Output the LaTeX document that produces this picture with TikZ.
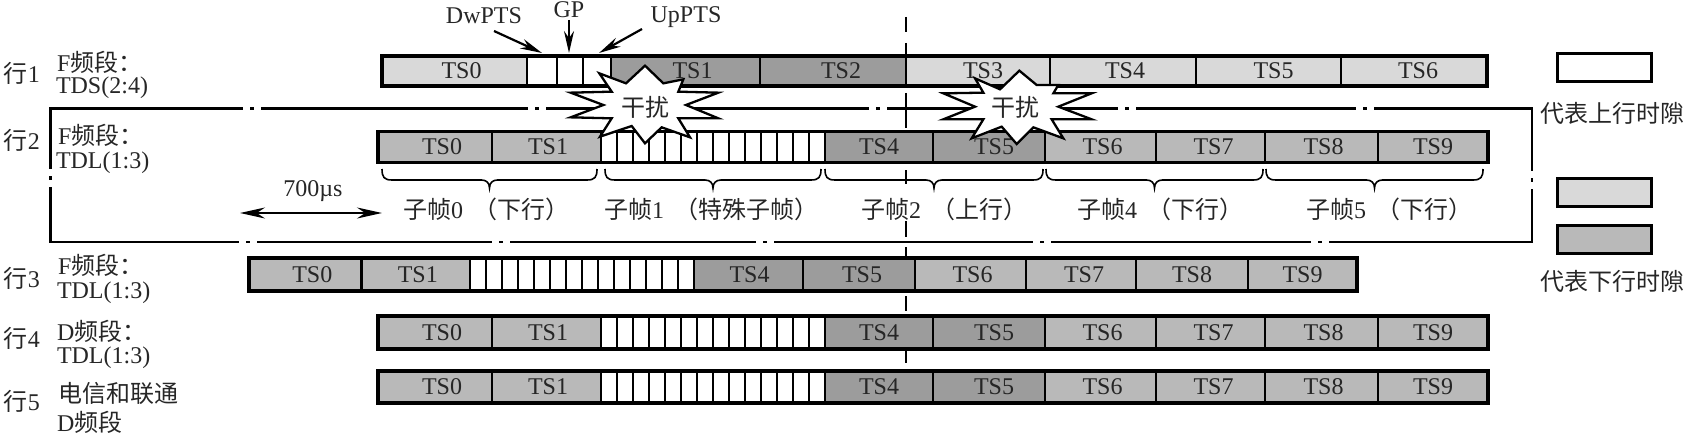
\documentclass[tikz,border=0pt]{standalone}
\usepackage{fontspec}
\setmainfont{Liberation Serif}
\newfontfamily\cjk{Noto Sans CJK SC}
\usetikzlibrary{arrows.meta}
\definecolor{lightslot}{HTML}{D9D9D9}
\definecolor{midslot}{HTML}{B9B9B9}
\definecolor{darkslot}{HTML}{9C9C9C}
\tikzset{
  x=1pt,y=-1pt,
  txt/.style={inner sep=0pt,outer sep=0pt,font=\fontsize{24}{28}\selectfont,text=black!85},
  cellbox/.style={draw=black,line width=2.6pt,inner sep=0pt,outer sep=0pt,font=\fontsize{24}{28}\selectfont,text=black!85},
  rowframe/.style={draw=black,line width=3.2pt},
  framebox/.style={draw=black,line width=2.4pt},
  axisdash/.style={draw=black,line width=1.6pt},
  pointer/.style={draw=black,line width=2.2pt,-{Stealth[length=22pt,width=10pt]}},
  span/.style={draw=black,line width=2pt,{Stealth[length=25pt,width=11pt]}-{Stealth[length=25pt,width=11pt]}},
  bracket/.style={draw=black,line width=1.6pt},
  burstshape/.style={draw=black,fill=white,line width=2.3pt,line join=miter},
  legendbox/.style={draw=black,line width=3pt,minimum width=94pt,minimum height=28pt,inner sep=0pt,outer sep=0pt}
}
\newcommand\zh[1]{{\cjk #1}}
% name, x1, x2, top, bottom, fill, text
\newcommand\slot[7]{\node[cellbox,fill=#6,minimum width={(#3-(#2))*1pt},minimum height={(#5-(#4))*1pt}] (#1) at ({(#2+#3)/2},{(#4+#5)/2}) {#7};}
% text with an offset of its centre from the cell centre
\newcommand\slottext[2]{\hspace*{#1pt}#2}
% name, x0, top, bottom
\newcommand\stripes[4]{\foreach \k in {0,...,13}{\pgfmathsetmacro\xa{#2+16*\k}\pgfmathsetmacro\xb{#2+16*\k+16}\slot{#1s\k}{\xa}{\xb}{#3}{#4}{white}{}}}
% name, top, bottom: the TDL row shared by rows 2, 4, 5
\newcommand\tdlrow[3]{%
  \foreach \a/\b/\c/\t/\o in {378/492/midslot/TS0/14,492/601/midslot/TS1/3,825/933/darkslot/TS4/0,933/1045/darkslot/TS5/10,1045/1156/midslot/TS6/4,1156/1265/midslot/TS7/6,1265/1378/midslot/TS8/4,1378/1488/midslot/TS9/0}{\slot{#1\t}{\a}{\b}{#2}{#3}{\c}{\slottext{\o}{\t}}}
  \stripes{#1}{601}{#2}{#3}
  \draw[rowframe] (#1TS0.north west) rectangle (#1TS9.south east);}
\newcommand\gapH[2]{\fill[white] (#1-9,#2-3) rectangle (#1+9,#2+3);\fill[black] (#1-2,#2-1.2) rectangle (#1+2,#2+1.2);}
\newcommand\gapV[2]{\fill[white] (#1-3,#2-9) rectangle (#1+3,#2+9);\fill[black] (#1-1.2,#2-2) rectangle (#1+1.2,#2+2);}
\newcommand\curly[2]{\pgfmathsetmacro\m{(#1+#2)/2}\draw[bracket] (#1,169) .. controls (#1,177) and (#1+2,180) .. (#1+10,180) -- (\m-8,180) .. controls (\m-3,180) and (\m,183) .. (\m,188) .. controls (\m,183) and (\m+3,180) .. (\m+8,180) -- (#2-10,180) .. controls (#2-2,180) and (#2,177) .. (#2,169);}
\begin{document}
\begin{tikzpicture}
\useasboundingbox (0,0) rectangle (1685,433);
% centre dashed line
\foreach \a/\b in {17/32,43/54,93/108,110/128,170/184,221/237,247/257,296/311,350/363}{\draw[axisdash] (906,\a) -- (906,\b);}
% frame around row 2
\draw[framebox] (50.5,108.7) rectangle (1532,241.7);
\foreach \x in {252,537,878,1127,1365}{\gapH{\x}{108.7}}
\foreach \x in {248,501,765,1042,1320}{\gapH{\x}{241.7}}
\gapV{50.5}{178}
\gapV{1532}{180}
% row 1
\foreach \a/\b/\c/\t/\o in {382/527/lightslot/TS0/14,611/760/darkslot/TS1/14,760/906/darkslot/TS2/16,906/1050/lightslot/TS3/10,1050/1196/lightslot/TS4/4,1196/1341/lightslot/TS5/10,1341/1487/lightslot/TS6/8}{\slot{a\t}{\a}{\b}{56}{86}{\c}{\slottext{\o}{\t}}}
\slot{adw}{527}{557}{56}{86}{white}{}
\slot{agp}{557}{583}{56}{86}{white}{}
\slot{aup}{583}{611}{56}{86}{white}{}
\draw[rowframe] (aTS0.north west) rectangle (aTS6.south east);
% row 2, 4, 5
\tdlrow{b}{131.5}{162.5}
\tdlrow{d}{316}{349}
\tdlrow{e}{371}{403}
% row 3
\foreach \a/\b/\c/\t/\o in {249/361.5/midslot/TS0/14,361.5/470/midslot/TS1/4,694/803/darkslot/TS4/2,803/915/darkslot/TS5/6,915/1026/midslot/TS6/4,1026/1136/midslot/TS7/6,1136/1248/midslot/TS8/0,1248/1357/midslot/TS9/0}{\slot{c\t}{\a}{\b}{258}{291}{\c}{\slottext{\o}{\t}}}
\stripes{c}{470}{258}{291}
\draw[rowframe] (cTS0.north west) rectangle (cTS9.south east);
% top labels and pointers
\node[txt] (dwlabel) at (484,16) {DwPTS};
\node[txt] (gplabel) at (569,10) {GP};
\node[txt] (uplabel) at (686,17) {UpPTS};
\coordinate (dwfrom) at (494,31);
\coordinate (dwto) at (542,53);
\coordinate (gpfrom) at (569,20);
\coordinate (gpto) at (569,53);
\coordinate (upfrom) at (642,29);
\coordinate (upto) at (599,53);
\draw[pointer] (dwfrom) -- (dwto);
\draw[pointer] (gpfrom) -- (gpto);
\draw[pointer] (upfrom) -- (upto);
% row labels
\node[txt,anchor=west] (h1) at (4,73) {\zh{行}1};
\node[txt,anchor=west] (h2) at (4,140) {\zh{行}2};
\node[txt,anchor=west] (h3) at (4,278) {\zh{行}3};
\node[txt,anchor=west] (h4) at (4,338) {\zh{行}4};
\node[txt,anchor=west] (h5) at (4,401) {\zh{行}5};
\node[txt,anchor=west] (l1a) at (57,62) {F\zh{频段：}};
\node[txt,anchor=west] (l1b) at (56,88) {TDS(2:4)};
\node[txt,anchor=west] (l2a) at (58,135) {F\zh{频段：}};
\node[txt,anchor=west] (l2b) at (56,163) {TDL(1:3)};
\node[txt,anchor=west] (l3a) at (58,265) {F\zh{频段：}};
\node[txt,anchor=west] (l3b) at (57,293) {TDL(1:3)};
\node[txt,anchor=west] (l4a) at (57,331) {D\zh{频段：}};
\node[txt,anchor=west] (l4b) at (57,358) {TDL(1:3)};
\node[txt,anchor=west] (l5a) at (58,393) {\zh{电信和联通}};
\node[txt,anchor=west] (l5b) at (57,422) {D\zh{频段}};
% braces and subframe labels
\curly{382}{597}
\curly{605}{821}
\curly{825}{1043}
\curly{1046}{1263}
\curly{1266}{1483}
\node[txt] (f0) at (486,209) {\zh{子帧}0\hspace{10pt}\zh{（下行）}};
\node[txt] (f1) at (711,209) {\zh{子帧}1\hspace{10pt}\zh{（特殊子帧）}};
\node[txt] (f2) at (944,209) {\zh{子帧}2\hspace{10pt}\zh{（上行）}};
\node[txt] (f4) at (1160,209) {\zh{子帧}4\hspace{10pt}\zh{（下行）}};
\node[txt] (f5) at (1389,209) {\zh{子帧}5\hspace{10pt}\zh{（下行）}};
% 700 us
\node[txt] (us) at (313,191) {700µs};
\coordinate (spanl) at (240,213);
\coordinate (spanr) at (382,213);
\draw[span] (spanl) -- (spanr);
% bursts
\begin{scope}[shift={(550,50)},x=0.33333pt,y=-0.33333pt]
\draw[burstshape] (285,47) -- (340,100) -- (400,88) -- (385,125) -- (505,128) -- (408,165) -- (505,205) -- (385,205) -- (420,262) -- (335,232) -- (285,280) -- (245,228) -- (150,260) -- (185,205) -- (62,202) -- (160,165) -- (62,128) -- (185,125) -- (148,70) -- (228,100) -- cycle;
\end{scope}
\node[txt] (burstone) at (645,107) {\zh{干扰}};
\begin{scope}[shift={(920,50)},x=0.33333pt,y=-0.33333pt]
\draw[burstshape] (298,62) -- (350,105) -- (415,105) -- (400,130) -- (515,130) -- (415,170) -- (515,208) -- (395,208) -- (430,265) -- (340,232) -- (290,282) -- (245,230) -- (155,265) -- (190,208) -- (70,208) -- (165,170) -- (70,130) -- (190,128) -- (165,85) -- (240,118) -- cycle;
\end{scope}
\node[txt] (bursttwo) at (1015,107) {\zh{干扰}};
% legend
\node[legendbox,fill=white] (legup) at (1604,68) {};
\node[legendbox,fill=lightslot] (leglight) at (1604,192) {};
\node[legendbox,fill=midslot] (legdark) at (1604,239.5) {};
\node[txt,anchor=west] (legtxtup) at (1540,113) {\zh{代表上行时隙}};
\node[txt,anchor=west] (legtxtdown) at (1540,281) {\zh{代表下行时隙}};
\end{tikzpicture}
\end{document}
